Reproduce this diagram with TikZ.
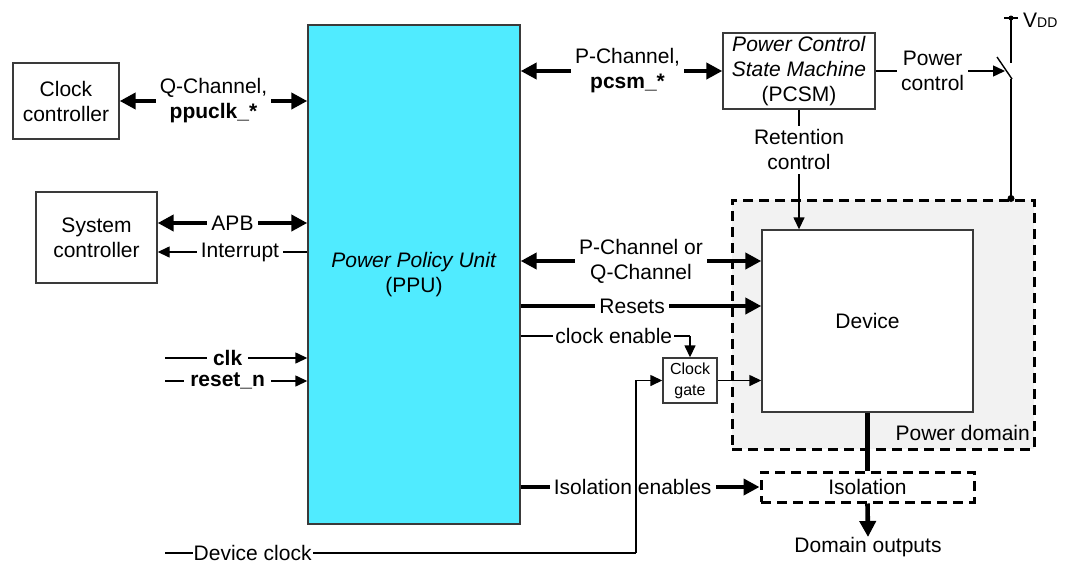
\documentclass[tikz,border=0pt]{standalone}
\usepackage{fontspec}
\setmainfont{Liberation Sans}
\usetikzlibrary{arrows.meta,calc}
\definecolor{ppucyan}{HTML}{50EBFF}
\definecolor{pdgray}{HTML}{F2F2F2}
\definecolor{edgegray}{HTML}{3A3A3A}
\newcommand\fmain{\fontsize{21}{25}\selectfont}
\newcommand\fsmall{\fontsize{16}{21}\selectfont}
\begin{document}
\begin{tikzpicture}[x=1pt,y=-1pt,
  box/.style={draw=edgegray,line width=1.4pt,inner sep=0pt,align=center,font=\fmain},
  dbox/.style={draw=black,line width=3pt,dash pattern=on 10pt off 6pt,inner sep=0pt,align=center,font=\fmain},
  lbl/.style={fill=white,inner sep=4pt,align=center,font=\fmain},
  thinline/.style={line width=1.4pt},
  thinarr/.style={line width=1.4pt,-{Triangle[length=12pt,width=11pt]}},
  bigline/.style={line width=4.6pt},
  bigarr/.style={line width=4.6pt,-{Triangle[length=16pt,width=16pt]}},
  bigboth/.style={line width=4.6pt,{Triangle[length=16pt,width=16pt]}-{Triangle[length=16pt,width=16pt]}}
]
\useasboundingbox (0,0) rectangle (1068,563);
\fill[white] (0,0) rectangle (1068,563);

% power domain and boxes
\node[dbox,fill=pdgray,minimum width=302pt,minimum height=249pt] (pd) at (883,324.5) {};
\node[box,fill=white,minimum width=211pt,minimum height=182pt] (dev) at (867.5,321) {Device};
\node[anchor=east,font=\fmain,inner sep=0pt] (pdlbl) at (1030,433) {Power domain};
\node[box,minimum width=106pt,minimum height=76pt] (clkctrl) at (66,101) {Clock\\controller};
\node[box,minimum width=121pt,minimum height=91pt] (sysctrl) at (96.5,237.5) {System\\controller};
\node[box,fill=ppucyan,minimum width=212pt,minimum height=499pt] (ppu) at (414,274.5) {\textit{Power Policy Unit}\\(PPU)};
\node[box,fill=white,minimum width=152pt,minimum height=76pt] (pcsm) at (799,71) {\textit{Power Control}\\\textit{State Machine}\\(PCSM)};
\node[box,fill=white,font=\fsmall,minimum width=54pt,minimum height=45pt] (cg) at (690,380.5) {Clock\\gate};
\node[dbox,fill=white,minimum width=213pt,minimum height=30pt] (iso) at (867.5,487) {Isolation};
\node[anchor=north,font=\fmain,inner sep=0pt] (domout) at (868,537) {Domain outputs};

% helper coordinates
\coordinate (apbY) at (0,223);
\coordinate (intY) at (0,252);
\coordinate (clkin) at (165,358);
\coordinate (rstin) at (165,381);
\coordinate (dclk) at (165,553);
\coordinate (dcorner) at (636,553);
\coordinate (pqY) at (0,261);
\coordinate (rsY) at (0,306);
\coordinate (ceY) at (0,336);
\coordinate (swtip) at (1005,71);
\coordinate (vdd) at (1011,18);
\coordinate (swtop) at (1011,63);
\coordinate (swa) at (997,57);
\coordinate (swb) at (1012,79);
\coordinate (vddl) at (1004,18);
\coordinate (vddr) at (1018,18);

% left side connectors
\draw[bigboth] (clkctrl.east) -- (clkctrl.east -| ppu.west)
  node[lbl,midway] (qlbl) {Q-Channel,\\\textbf{ppuclk\_*}};
\draw[bigboth] (sysctrl.east |- apbY) -- (ppu.west |- apbY)
  node[lbl,midway] (apblbl) {APB};
\draw[thinarr] (ppu.west |- intY) -- (sysctrl.east |- intY)
  node[lbl,pos=0.45] (intlbl) {Interrupt};
\draw[thinarr] (clkin) -- (clkin -| ppu.west)
  node[lbl,pos=0.44,inner xsep=6pt] (clklbl) {\textbf{clk}};
\draw[thinarr] (rstin) -- (rstin -| ppu.west)
  node[lbl,pos=0.44,inner xsep=6pt] (rstlbl) {\textbf{reset\_n}};

% right side connectors
\draw[bigboth] (ppu.east |- pcsm.west) -- (pcsm.west)
  node[lbl,pos=0.53] (pclbl) {P-Channel,\\\textbf{pcsm\_*}};
\draw[thinarr] (pcsm.east) -- (swtip)
  node[lbl,pos=0.44] (pwrlbl) {Power\\control};
\draw[thinarr] (pcsm.south) -- (pcsm.south |- dev.north)
  node[lbl,pos=0.335] (retlbl) {Retention\\control};
\draw[bigboth] (ppu.east |- pqY) -- (dev.west |- pqY)
  node[lbl,midway] (pqlbl) {P-Channel or\\Q-Channel};
\draw[bigarr] (ppu.east |- rsY) -- (dev.west |- rsY)
  node[lbl,pos=0.463] (rslbl) {Resets};
\draw[thinline] (ppu.east |- ceY) -- (cg.north |- ceY)
  node[lbl,pos=0.55,inner sep=2pt] (celbl) {clock enable};
\draw[thinarr] (cg.north |- ceY) -- (cg.north);
\draw[thinarr] (cg.east) -- (cg.east -| dev.west);
\draw[bigarr] (ppu.east |- iso.west) -- (iso.west)
  node[lbl,pos=0.469] (isolbl) {Isolation enables};
\draw[thinline] (dclk) -- (dcorner)
  node[lbl,pos=0.186,inner sep=1pt] (dclklbl) {Device clock};
\draw[thinarr] (dcorner) |- (cg.west);
\draw[bigline] (dev.south) -- (iso.north);
\draw[bigarr] (iso.south) -- (domout.north);

% supply switch
\draw[thinline] (vddl) -- (vddr);
\draw[thinline] (vdd) -- (swtop);
\draw[thinline] (swa) -- (swb);
\draw[thinline] (swb -| vdd) -- (vdd |- pd.north);
\fill (vdd) circle (2.5pt);
\fill (vdd |- pd.north) circle (3.5pt);
\node[anchor=west,font=\fmain,inner sep=0pt] (vddlbl) at (1023,20) {V{\fontsize{14}{14}\selectfont DD}};
\end{tikzpicture}
\end{document}
